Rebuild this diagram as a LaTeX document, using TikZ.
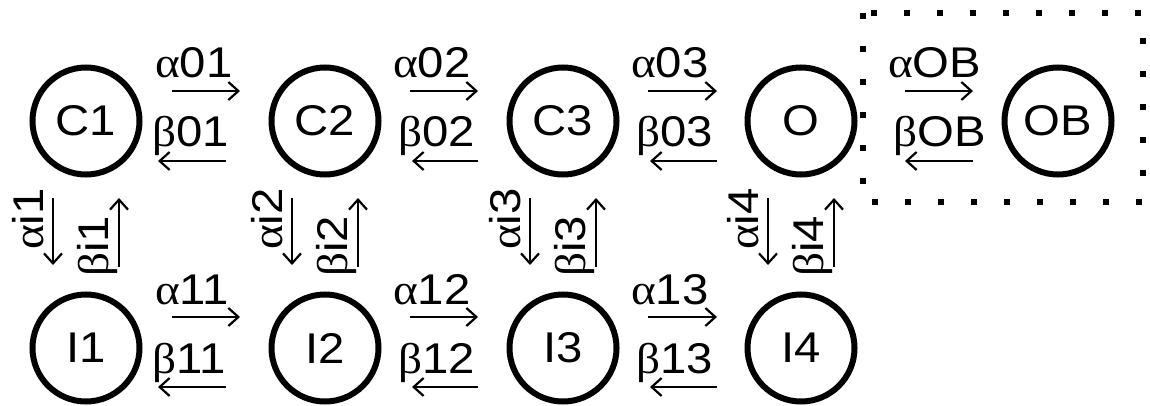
\documentclass[tikz,border=0pt]{standalone}
\usepackage{fontspec}
\setmainfont[FakeStretch=1.1]{Liberation Sans}
\newfontfamily\grk[FakeStretch=1.1]{Liberation Serif}
\newcommand\myA{{\grk α}}
\newcommand\myB{{\grk β}}
\usetikzlibrary{arrows.meta}
\begin{document}
\begin{tikzpicture}[x=1pt,y=-1pt,
  state/.style={circle,draw,line width=6pt,minimum size=107pt,inner sep=0pt,font=\fontsize{43}{50}\selectfont},
  lab/.style={inner sep=0pt,font=\fontsize{43}{50}\selectfont},
  rate/.style={line width=2.2pt,-{Straight Barb[length=10pt,width=18pt]}},
  box/.style={line width=6pt,dash pattern=on 6pt off 27pt}]
\useasboundingbox (0,0) rectangle (1150,406);
% states
\node[state] (C1) at (86,121) {C1};
\node[state] (C2) at (325,121) {C2};
\node[state] (C3) at (563,121) {C3};
\node[state] (O) at (801,121) {O};
\node[state] (OB) at (1058,121) {OB};
\node[state] (I1) at (86,348) {I1};
\node[state] (I2) at (325,348) {I2};
\node[state] (I3) at (563,348) {I3};
\node[state] (I4) at (801,348) {I4};
% dotted box
\coordinate (bx1) at (863,13);
\coordinate (bx2) at (1143,202);
\draw[box] (bx1) rectangle (bx2);
% horizontal rates
\foreach \g/\la/\lb/\ta/\aa/\ab/\tb/\ba/\bb/\dy in {
  h1/01/01/155/172/240/152/158/226/0,
  h2/02/02/393/410/478/398/412/478/0,
  h3/03/03/631/648/717/636/650/717/0,
  h4/OB/OB/888/905/973/893/905/973/0,
  h5/11/11/155/172/240/152/158/226/226,
  h6/12/12/393/410/478/398/412/478/226,
  h7/13/13/631/648/717/636/650/717/226}{
  \node[lab,anchor=base west] (a\g) at (\ta,78+\dy) {\myA\la};
  \coordinate (a\g s) at (\aa,91+\dy);
  \coordinate (a\g e) at (\ab,91+\dy);
  \draw[rate] (a\g s) -- (a\g e);
  \node[lab,anchor=base west] (b\g) at (\tb,147+\dy) {\myB\lb};
  \coordinate (b\g s) at (\bb,161+\dy);
  \coordinate (b\g e) at (\ba,161+\dy);
  \draw[rate] (b\g s) -- (b\g e);
}
% vertical rates
\foreach \i/\cx in {1/86,2/325,3/563,4/801}{
  \node[lab,rotate=90,anchor=base west] (ai\i) at (\cx-43,250) {\myA i\i};
  \coordinate (ai\i s) at (\cx-33,198);
  \coordinate (ai\i e) at (\cx-33,265);
  \draw[rate] (ai\i s) -- (ai\i e);
  \node[lab,rotate=90,anchor=base west] (bi\i) at (\cx+22,277) {\myB i\i};
  \coordinate (bi\i s) at (\cx+33,267);
  \coordinate (bi\i e) at (\cx+33,198);
  \draw[rate] (bi\i s) -- (bi\i e);
}
\end{tikzpicture}
\end{document}
